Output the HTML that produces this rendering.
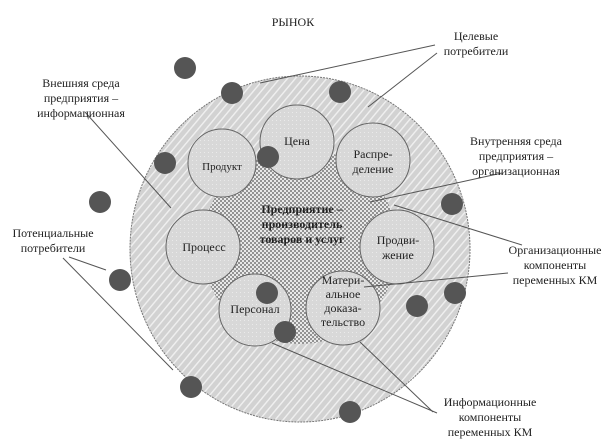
<!DOCTYPE html>
<html><head><meta charset="utf-8"><style>
html,body{margin:0;padding:0;background:#fff;}
svg{display:block;}
text{font-family:"Liberation Serif",serif;fill:#222;}
</style></head><body>
<svg width="616" height="443" viewBox="0 0 616 443" xmlns="http://www.w3.org/2000/svg">
<defs>
<pattern id="hatch" width="6" height="6" patternUnits="userSpaceOnUse" patternTransform="rotate(-50)">
<rect width="6" height="6" fill="#d2d2d2"/>
<rect width="6" height="1.4" fill="#f0f0f0"/>
</pattern>
<pattern id="check" width="4" height="4" patternUnits="userSpaceOnUse">
<rect width="4" height="4" fill="#e8e8e8"/>
<rect width="2" height="2" fill="#939393"/>
<rect x="2" y="2" width="2" height="2" fill="#939393"/>
</pattern>
<pattern id="dots" width="4" height="4" patternUnits="userSpaceOnUse">
<rect width="4" height="4" fill="#d8d8d8"/>
<rect width="1" height="1" fill="#eaeaea"/>
</pattern>
</defs>
<ellipse cx="300" cy="249" rx="170" ry="173" fill="url(#hatch)" stroke="#777" stroke-width="1" stroke-dasharray="2 1"/>
<circle cx="300" cy="246" r="98" fill="url(#check)"/>
<g fill="url(#dots)" stroke="#666" stroke-width="1">
<circle cx="297" cy="142" r="37"/>
<circle cx="222" cy="163" r="34"/>
<circle cx="373" cy="160" r="37"/>
<circle cx="203" cy="247" r="37"/>
<circle cx="397" cy="247" r="37"/>
<circle cx="255" cy="310" r="36"/>
<circle cx="343" cy="308" r="37"/>
</g>
<g fill="#555">
<circle cx="185" cy="68" r="11"/><circle cx="232" cy="93" r="11"/><circle cx="340" cy="92" r="11"/>
<circle cx="165" cy="163" r="11"/><circle cx="268" cy="157" r="11"/><circle cx="100" cy="202" r="11"/>
<circle cx="452" cy="204" r="11"/><circle cx="455" cy="293" r="11"/><circle cx="417" cy="306" r="11"/>
<circle cx="267" cy="293" r="11"/><circle cx="285" cy="332" r="11"/><circle cx="120" cy="280" r="11"/>
<circle cx="191" cy="387" r="11"/><circle cx="350" cy="412" r="11"/>
</g>
<g stroke="#555" stroke-width="1" fill="none">
<line x1="435" y1="45" x2="260" y2="83"/>
<line x1="437" y1="53" x2="368" y2="107"/>
<line x1="85" y1="112" x2="171" y2="208"/>
<line x1="502" y1="173" x2="370" y2="202"/>
<line x1="522" y1="245" x2="394" y2="205"/>
<line x1="508" y1="273" x2="364" y2="287"/>
<line x1="69" y1="257" x2="106" y2="270"/>
<line x1="63" y1="258" x2="173" y2="370"/>
<line x1="437" y1="413" x2="272" y2="343"/>
<line x1="433" y1="412" x2="360" y2="342"/>
</g>
<g font-size="12" text-anchor="middle">
<text x="293" y="26">РЫНОК</text>
<text x="476" y="40">Целевые</text><text x="476" y="55">потребители</text>
<text x="81" y="87">Внешняя среда</text><text x="81" y="102">предприятия –</text><text x="81" y="117">информационная</text>
<text x="516" y="145">Внутренняя среда</text><text x="516" y="160">предприятия –</text><text x="516" y="175">организационная</text>
<text x="555" y="254">Организационные</text><text x="555" y="269">компоненты</text><text x="555" y="284">переменных КМ</text>
<text x="53" y="237">Потенциальные</text><text x="53" y="252">потребители</text>
<text x="490" y="406">Информационные</text><text x="490" y="421">компоненты</text><text x="490" y="436">переменных КМ</text>
<text x="297" y="145">Цена</text>
<text x="222" y="170" font-size="11">Продукт</text>
<text x="373" y="158">Распре-</text><text x="373" y="173">деление</text>
<text x="204" y="251">Процесс</text>
<text x="398" y="244">Продви-</text><text x="398" y="259">жение</text>
<text x="255" y="313">Персонал</text>
<text x="343" y="284">Матери-</text><text x="343" y="298">альное</text><text x="343" y="312">доказа-</text><text x="343" y="326">тельство</text>
<g font-weight="bold"><text x="302" y="213">Предприятие –</text><text x="302" y="228">производитель</text><text x="302" y="243">товаров и услуг</text></g>
</g>
</svg>
</body></html>
